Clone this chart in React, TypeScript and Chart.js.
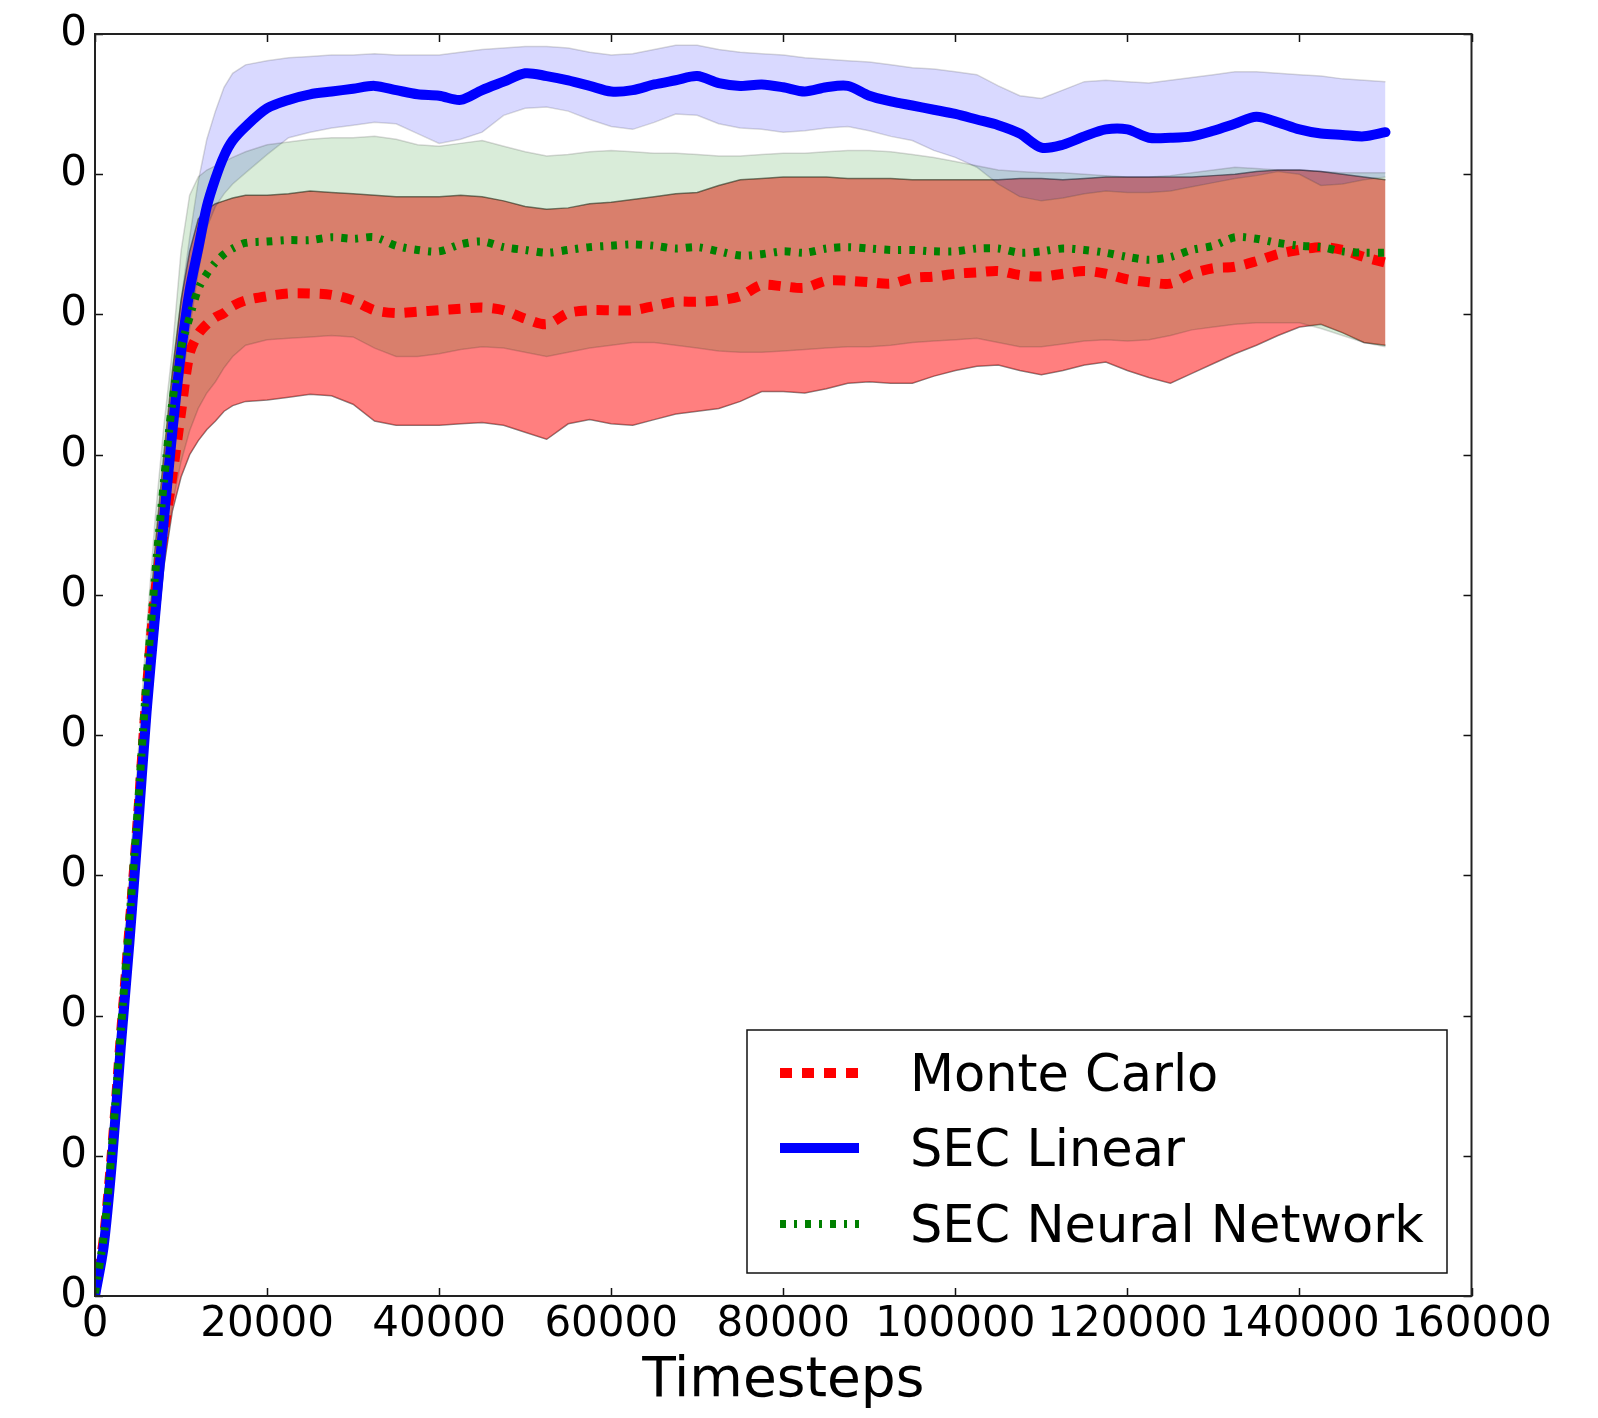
import React, { useEffect, useRef } from 'react';
import Chart from 'chart.js/auto';

// ---------------- data ----------------
const timesteps = [
  0, 1000, 2000, 3000, 4000, 5000, 6000, 7000, 8000, 9000, 10000, 11000, 12000, 13000, 14000, 15000, 16000,
  17500, 20000, 22500, 25000, 27500, 30000, 32500, 35000, 37500, 40000, 42500, 45000, 47500, 50000,
  52500, 55000, 57500, 60000, 62500, 65000, 67500, 70000, 72500, 75000, 77500, 80000, 82500, 85000,
  87500, 90000, 92500, 95000, 97500, 100000, 102500, 105000, 107500, 110000, 112500, 115000, 117500,
  120000, 122500, 125000, 127500, 130000, 132500, 135000, 137500, 140000, 142500, 145000, 147500, 150000,
];

const secLinearMean = [
  0, 0.35, 0.98, 1.78, 2.52, 3.33, 4.17, 4.86, 5.53, 6.17, 6.73, 7.17, 7.47, 7.77, 7.97, 8.13, 8.24,
  8.34, 8.47, 8.53, 8.57, 8.59, 8.61, 8.63, 8.6, 8.57, 8.56, 8.53, 8.6, 8.66, 8.72,
  8.7, 8.67, 8.63, 8.59, 8.6, 8.64, 8.67, 8.7, 8.65, 8.63, 8.64, 8.62, 8.59, 8.62,
  8.63, 8.56, 8.52, 8.49, 8.46, 8.43, 8.39, 8.35, 8.29, 8.19, 8.21, 8.27, 8.32,
  8.32, 8.26, 8.26, 8.27, 8.31, 8.36, 8.41, 8.37, 8.32, 8.29, 8.28, 8.27, 8.3,
];
const secLinearHigh = [
  0.05, 0.5, 1.2, 2.0, 2.8, 3.6, 4.45, 5.2, 5.9, 6.55, 7.1, 7.55, 7.95, 8.25, 8.45, 8.62, 8.72,
  8.78, 8.81, 8.83, 8.84, 8.85, 8.85, 8.86, 8.85, 8.85, 8.85, 8.87, 8.89, 8.9, 8.91,
  8.91, 8.9, 8.87, 8.85, 8.86, 8.89, 8.92, 8.92, 8.89, 8.87, 8.86, 8.85, 8.83, 8.82,
  8.81, 8.8, 8.78, 8.76, 8.75, 8.73, 8.71, 8.63, 8.56, 8.54, 8.6, 8.66, 8.67,
  8.66, 8.65, 8.67, 8.69, 8.71, 8.73, 8.73, 8.72, 8.71, 8.7, 8.68, 8.67, 8.66,
];
const secLinearLow = [
  0, 0.25, 0.85, 1.6, 2.3, 3.1, 3.9, 4.6, 5.25, 5.9, 6.45, 6.9, 7.3, 7.62, 7.77, 7.86, 7.93,
  8.01, 8.14, 8.26, 8.3, 8.33, 8.35, 8.37, 8.36, 8.29, 8.22, 8.25, 8.3, 8.42, 8.47,
  8.48, 8.45, 8.39, 8.34, 8.32, 8.37, 8.43, 8.42, 8.36, 8.33, 8.32, 8.3, 8.31, 8.33,
  8.34, 8.31, 8.27, 8.24, 8.17, 8.12, 8.05, 7.93, 7.84, 7.81, 7.83, 7.86, 7.88,
  7.87, 7.87, 7.88, 7.91, 7.94, 7.97, 7.99, 8.02, 8.0, 7.92, 7.93, 7.96, 7.98,
];

const secNNMean = [
  0.02, 0.42, 1.08, 1.9, 2.68, 3.5, 4.4, 5.15, 5.8, 6.38, 6.76, 6.98, 7.18, 7.29, 7.37, 7.43, 7.47,
  7.51, 7.52, 7.53, 7.53, 7.55, 7.54, 7.55, 7.49, 7.46, 7.45, 7.5, 7.52, 7.48, 7.46,
  7.44, 7.46, 7.48, 7.49, 7.5, 7.49, 7.47, 7.48, 7.45, 7.42, 7.43, 7.45, 7.44, 7.47,
  7.48, 7.47, 7.46, 7.46, 7.45, 7.45, 7.47, 7.47, 7.44, 7.45, 7.47, 7.46, 7.44,
  7.41, 7.39, 7.41, 7.46, 7.49, 7.55, 7.54, 7.51, 7.49, 7.48, 7.45, 7.44, 7.44,
];
const secNNHigh = [
  0.05, 0.6, 1.35, 2.2, 3.0, 3.85, 4.75, 5.55, 6.2, 6.75, 7.45, 7.85, 7.98, 8.03, 8.06, 8.09, 8.12,
  8.16, 8.21, 8.23, 8.25, 8.26, 8.26, 8.27, 8.25, 8.21, 8.2, 8.22, 8.24, 8.2, 8.16,
  8.13, 8.14, 8.16, 8.17, 8.16, 8.15, 8.15, 8.14, 8.13, 8.13, 8.14, 8.15, 8.15, 8.16,
  8.17, 8.17, 8.16, 8.14, 8.12, 8.09, 8.06, 8.03, 8.02, 8.01, 8.01, 8.0, 7.99,
  7.98, 7.98, 7.99, 8.01, 8.03, 8.05, 8.04, 8.03, 8.03, 8.02, 8.01, 8.01, 8.01,
];
const secNNLow = [
  0, 0.28, 0.85, 1.6, 2.35, 3.1, 3.9, 4.6, 5.2, 5.65, 5.95, 6.17, 6.33, 6.44, 6.52, 6.62, 6.7,
  6.78, 6.82, 6.83, 6.84, 6.85, 6.84, 6.76, 6.7, 6.7, 6.72, 6.75, 6.77, 6.76, 6.73,
  6.7, 6.73, 6.76, 6.78, 6.8, 6.8, 6.78, 6.76, 6.74, 6.73, 6.73, 6.74, 6.75, 6.76,
  6.77, 6.77, 6.78, 6.8, 6.81, 6.82, 6.83, 6.8, 6.77, 6.77, 6.79, 6.81, 6.82,
  6.81, 6.82, 6.85, 6.89, 6.91, 6.93, 6.94, 6.94, 6.94, 6.9, 6.85, 6.8, 6.77,
];

const monteCarloMean = [
  0.02, 0.4, 1.05, 1.85, 2.62, 3.42, 4.3, 5.02, 5.45, 5.85, 6.3, 6.72, 6.86, 6.93, 6.98, 7.01, 7.06,
  7.1, 7.13, 7.15, 7.15, 7.14, 7.1, 7.03, 7.01, 7.02, 7.03, 7.04, 7.05, 7.03, 6.97,
  6.93, 7.01, 7.03, 7.03, 7.03, 7.06, 7.09, 7.09, 7.1, 7.13, 7.21, 7.2, 7.19, 7.24,
  7.24, 7.23, 7.22, 7.26, 7.27, 7.29, 7.3, 7.31, 7.28, 7.27, 7.29, 7.31, 7.29,
  7.25, 7.23, 7.22, 7.29, 7.33, 7.34, 7.38, 7.43, 7.46, 7.48, 7.46, 7.41, 7.37,
];
const monteCarloHigh = [
  0.05, 0.55, 1.25, 2.05, 2.85, 3.7, 4.55, 5.35, 6.0, 6.6, 7.1, 7.45, 7.68, 7.75, 7.79, 7.81, 7.83,
  7.85, 7.85, 7.86, 7.88, 7.87, 7.86, 7.85, 7.84, 7.84, 7.84, 7.85, 7.84, 7.81, 7.77,
  7.75, 7.76, 7.79, 7.8, 7.82, 7.84, 7.86, 7.87, 7.92, 7.96, 7.97, 7.98, 7.98, 7.98,
  7.97, 7.97, 7.97, 7.96, 7.96, 7.96, 7.96, 7.96, 7.97, 7.97, 7.96, 7.97, 7.98,
  7.98, 7.98, 7.98, 7.98, 7.99, 8.0, 8.02, 8.03, 8.03, 8.02, 8.0, 7.98, 7.96,
];
const monteCarloLow = [
  0, 0.25, 0.85, 1.6, 2.35, 3.1, 3.85, 4.6, 5.2, 5.6, 5.84, 6.0, 6.1, 6.18, 6.24, 6.31, 6.35,
  6.38, 6.39, 6.41, 6.43, 6.42, 6.36, 6.24, 6.21, 6.21, 6.21, 6.22, 6.23, 6.21, 6.16,
  6.11, 6.22, 6.25, 6.22, 6.21, 6.25, 6.29, 6.31, 6.33, 6.38, 6.45, 6.45, 6.44, 6.47,
  6.51, 6.52, 6.51, 6.51, 6.56, 6.6, 6.63, 6.64, 6.6, 6.57, 6.6, 6.64, 6.66,
  6.6, 6.55, 6.51, 6.58, 6.65, 6.72, 6.78, 6.85, 6.91, 6.93, 6.87, 6.8, 6.78,
];

const seriesNames = ['Monte Carlo', 'SEC Linear', 'SEC Neural Network'];
const yTickLabels = ['0', '0', '0', '0', '0', '0', '0', '0', '0', '0'];
const xAxisTitle = 'Timesteps';

// ---------------- styles ----------------
const FONT = "'DejaVu Sans', 'Liberation Sans', sans-serif";
const RED = 'rgb(255,0,0)';
const BLUE = 'rgb(0,0,255)';
const GREEN = 'rgb(0,128,0)';
const RED_DASH = [12, 10];
const GREEN_DASH = [6, 8, 3, 8];

const pts = (vals: number[]) => timesteps.map((t, i) => ({ x: t, y: vals[i] }));

const edge = (vals: number[], color: string, order: number, fill: any, bg: string) => ({
  data: pts(vals),
  borderColor: color,
  borderWidth: 1.5,
  backgroundColor: bg,
  fill,
  pointRadius: 0,
  tension: 0,
  order,
});

const framePlugin = {
  id: 'frame',
  afterDatasetsDraw(chart: any) {
    const { ctx, chartArea: a, scales } = chart;
    const x = scales.x;
    const y = scales.y;
    ctx.save();
    ctx.strokeStyle = '#111';
    ctx.lineWidth = 1.5;
    ctx.beginPath();
    x.ticks.forEach((t: any) => {
      const px = Math.round(x.getPixelForValue(t.value)) + 0.5;
      ctx.moveTo(px, a.bottom);
      ctx.lineTo(px, a.bottom - 8);
      ctx.moveTo(px, a.top);
      ctx.lineTo(px, a.top + 8);
    });
    y.ticks.forEach((t: any) => {
      const py = Math.round(y.getPixelForValue(t.value)) + 0.5;
      ctx.moveTo(a.left, py);
      ctx.lineTo(a.left + 8, py);
      ctx.moveTo(a.right, py);
      ctx.lineTo(a.right - 8, py);
    });
    ctx.stroke();
    ctx.lineWidth = 2;
    ctx.strokeStyle = '#222';
    ctx.strokeRect(a.left, a.top, a.right - a.left, a.bottom - a.top);
    ctx.restore();
  },
};

const legendPlugin = {
  id: 'boxLegend',
  afterDraw(chart: any) {
    const { ctx } = chart;
    const box = { x: 747, y: 1030, w: 700, h: 243 };
    ctx.save();
    ctx.fillStyle = '#fff';
    ctx.fillRect(box.x, box.y, box.w, box.h);
    ctx.strokeStyle = '#111';
    ctx.lineWidth = 1.5;
    ctx.strokeRect(box.x, box.y, box.w, box.h);
    const rows = [
      { color: RED, width: 10, dash: RED_DASH, yc: 1073 },
      { color: BLUE, width: 10, dash: [] as number[], yc: 1148 },
      { color: GREEN, width: 8, dash: GREEN_DASH, yc: 1224 },
    ];
    rows.forEach((r, i) => {
      ctx.beginPath();
      ctx.strokeStyle = r.color;
      ctx.lineWidth = r.width;
      ctx.lineCap = 'butt';
      ctx.setLineDash(r.dash);
      ctx.moveTo(780, r.yc);
      ctx.lineTo(859, r.yc);
      ctx.stroke();
      ctx.setLineDash([]);
      ctx.fillStyle = '#000';
      ctx.font = `51px ${FONT}`;
      ctx.textBaseline = 'middle';
      ctx.textAlign = 'left';
      ctx.fillText(seriesNames[i], 910, r.yc + 5);
    });
    ctx.restore();
  },
};

export default function App() {
  const ref = useRef<HTMLCanvasElement>(null);

  useEffect(() => {
    const canvas = ref.current;
    if (!canvas) return;
    const chart = new Chart(canvas, {
      type: 'line',
      data: {
        datasets: [
          edge(monteCarloLow, 'rgba(0,0,0,0.5)', 9, false, 'rgba(255,0,0,0.5)'),
          edge(monteCarloHigh, 'rgba(0,0,0,0.5)', 8, '-1', 'rgba(255,0,0,0.5)'),
          edge(secLinearLow, 'rgba(0,0,0,0.15)', 7, false, 'rgba(0,0,255,0.15)'),
          edge(secLinearHigh, 'rgba(0,0,0,0.15)', 6, '-1', 'rgba(0,0,255,0.15)'),
          edge(secNNLow, 'rgba(0,0,0,0.15)', 5, false, 'rgba(0,128,0,0.15)'),
          edge(secNNHigh, 'rgba(0,0,0,0.15)', 4, '-1', 'rgba(0,128,0,0.15)'),
          {
            label: seriesNames[0],
            data: pts(monteCarloMean),
            borderColor: RED,
            borderWidth: 10,
            borderDash: RED_DASH,
            borderCapStyle: 'butt',
            fill: false,
            pointRadius: 0,
            tension: 0.3,
            order: 3,
          },
          {
            label: seriesNames[1],
            data: pts(secLinearMean),
            borderColor: BLUE,
            borderWidth: 10,
            borderJoinStyle: 'round',
            borderCapStyle: 'round',
            fill: false,
            pointRadius: 0,
            tension: 0.3,
            order: 2,
          },
          {
            label: seriesNames[2],
            data: pts(secNNMean),
            borderColor: GREEN,
            borderWidth: 8,
            borderDash: GREEN_DASH,
            borderCapStyle: 'butt',
            fill: false,
            pointRadius: 0,
            tension: 0.3,
            order: 1,
          },
        ] as any,
      },
      options: {
        responsive: false,
        animation: false,
        events: [],
        layout: { padding: { left: 0, top: 34, right: 126.5, bottom: 0 } },
        plugins: {
          legend: { display: false },
          tooltip: { enabled: false },
          title: { display: false },
        },
        scales: {
          x: {
            type: 'linear',
            min: 0,
            max: 160000,
            grid: { display: false, drawTicks: false },
            border: { display: false },
            ticks: {
              stepSize: 20000,
              autoSkip: false,
              maxRotation: 0,
              minRotation: 0,
              padding: 4,
              color: '#000',
              font: { family: FONT, size: 42 },
              callback: (v: any) => String(v),
            },
            title: {
              display: true,
              text: xAxisTitle,
              color: '#000',
              font: { family: FONT, size: 55 },
              padding: { top: 0, bottom: 3 },
            },
            afterFit: (s: any) => {
              s.height = 122;
            },
          },
          y: {
            type: 'linear',
            min: 0,
            max: 9,
            grid: { display: false, drawTicks: false },
            border: { display: false },
            ticks: {
              stepSize: 1,
              padding: 8,
              color: '#000',
              font: { family: FONT, size: 42 },
              callback: (_v: any, i: number) => yTickLabels[i],
            },
            afterFit: (s: any) => {
              s.width = 95;
            },
          },
        },
      } as any,
      plugins: [framePlugin, legendPlugin],
    });
    return () => chart.destroy();
  }, []);

  return (
    <div style={{ position: 'absolute', left: 0, top: 0, width: 1598, height: 1418, background: '#fff' }}>
      <canvas ref={ref} width={1598} height={1418} style={{ width: 1598, height: 1418, display: 'block' }} />
    </div>
  );
}
